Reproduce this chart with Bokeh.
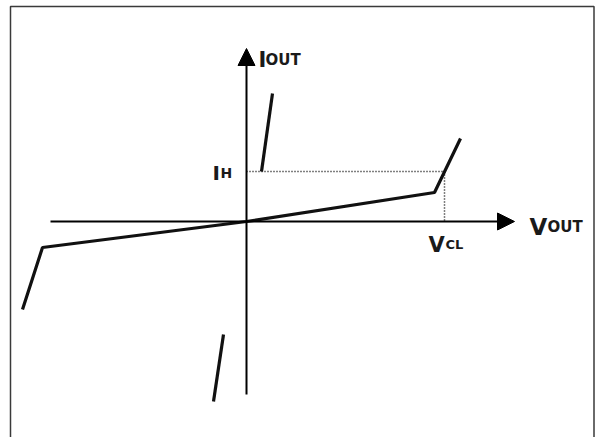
from bokeh.plotting import figure
from bokeh.models import Range1d, Arrow, NormalHead
from bokeh.core.properties import value
from bokeh.embed import file_html
from bokeh.resources import INLINE

# ---- data (arbitrary units: V_OUT horizontally, I_OUT vertically) ----
vout_main = [-11.2, -10.2, 0.0, 9.4, 10.7]
iout_main = [-8.8, -2.6, 0.0, 2.9, 8.3]

vout_upper = [0.75, 1.3]
iout_upper = [5.0, 12.8]

vout_lower = [-1.65, -1.15]
iout_lower = [-18.0, -11.3]

IH = 5.0
VCL = 9.9

x_axis_span = [-9.8, 13.4]
y_axis_span = [-17.3, 17.3]

frame_x = [-11.8, -11.8, 17.375, 17.375]
frame_y = [-25.0, 21.5, 21.5, -25.0]

FONT = "DejaVu Sans"

p = figure(width=596, height=437, output_backend="svg", toolbar_location=None,
           x_range=Range1d(-12.3, 17.5), y_range=Range1d(-21.6, 22.1),
           min_border=0)
p.xaxis.visible = False
p.yaxis.visible = False
p.grid.visible = False
p.outline_line_color = None
p.background_fill_color = "white"
p.border_fill_color = "white"

# frame
p.line(frame_x, frame_y, line_color="#3a3a3a", line_width=1.5)

# axes with arrows
head_kw = dict(size=17, fill_color="black", line_color="black", line_width=1)
p.add_layout(Arrow(end=NormalHead(**head_kw),
                   x_start=x_axis_span[0], y_start=0, x_end=x_axis_span[1], y_end=0,
                   line_width=2, line_color="black"))
p.add_layout(Arrow(end=NormalHead(**head_kw),
                   x_start=0, y_start=y_axis_span[0], x_end=0, y_end=y_axis_span[1],
                   line_width=2, line_color="black"))

# dotted guides
p.line([0, VCL], [IH, IH], line_color="black", line_width=1.5, line_dash="1 2")
p.line([VCL, VCL], [IH, 0], line_color="black", line_width=1.5, line_dash="1 2")

# characteristic
cw = dict(line_color="#111111", line_width=3.2)
p.line(vout_main, iout_main, **cw)
p.line(vout_upper, iout_upper, **cw)
p.line(vout_lower, iout_lower, **cw)

# labels: (text, anchor x, anchor y, x_off, y_off, size)
labels = [
    ("I", 0, y_axis_span[1], 12, 11, "21px"),
    ("OUT", 0, y_axis_span[1], 19, 11, "15px"),
    ("I", 0, IH, -34, 1, "20px"),
    ("H", 0, IH, -26, 1, "14px"),
    ("V", VCL, 0, -16, 23, "21px"),
    ("CL", VCL, 0, 1, 23, "13px"),
    ("V", x_axis_span[1], 0, 15, 5, "23px"),
    ("OUT", x_axis_span[1], 0, 33, 5, "15px"),
]
for t, ax, ay, xo, yo, sz in labels:
    p.text(x=[ax], y=[ay], text=[t], x_offset=xo, y_offset=yo,
           text_font=value(FONT), text_font_style="bold", text_font_size=sz,
           text_color="#1a1a1a", text_align="left", text_baseline="alphabetic")

open("out.html", "w").write(file_html(p, INLINE))
